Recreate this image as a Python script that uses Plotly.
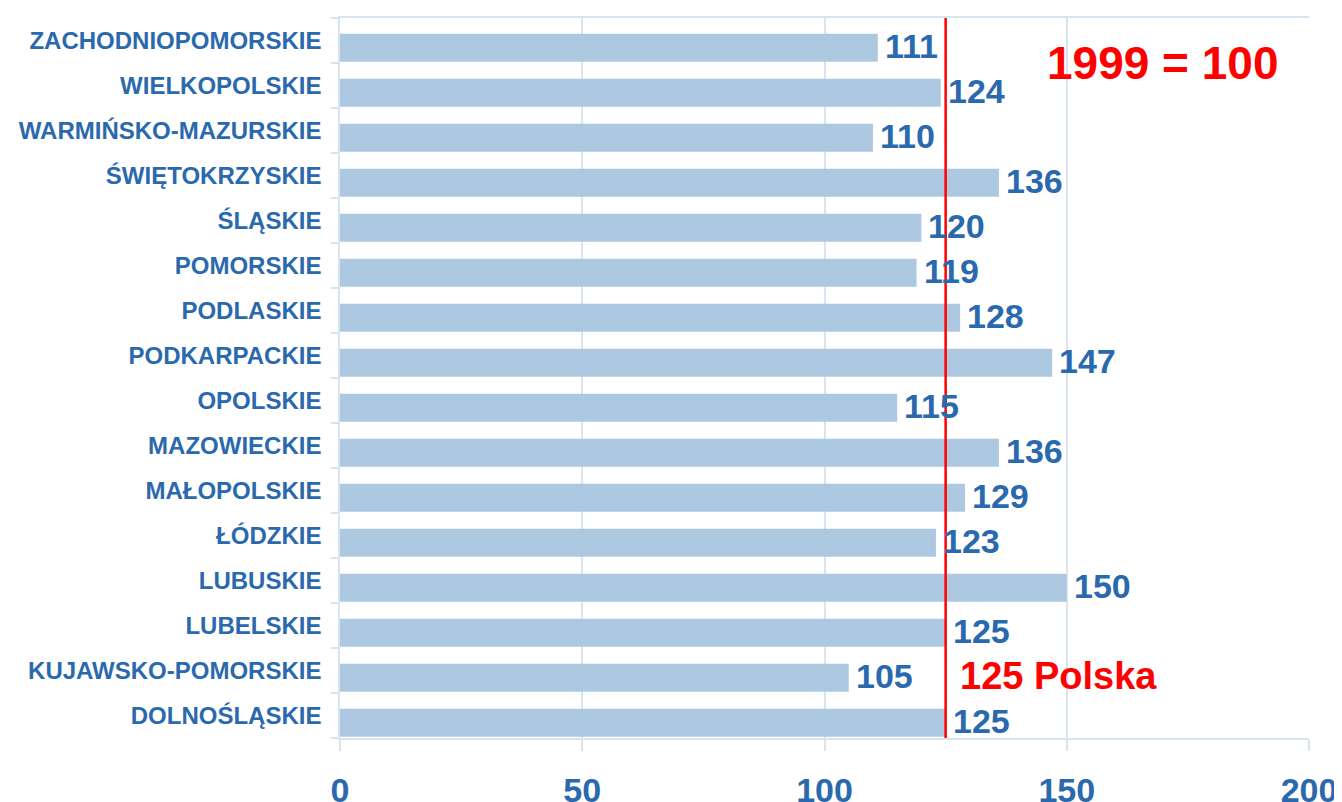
import plotly.graph_objects as go

regions = ["DOLNOŚLĄSKIE", "KUJAWSKO-POMORSKIE", "LUBELSKIE", "LUBUSKIE", "ŁÓDZKIE",
           "MAŁOPOLSKIE", "MAZOWIECKIE", "OPOLSKIE", "PODKARPACKIE", "PODLASKIE",
           "POMORSKIE", "ŚLĄSKIE", "ŚWIĘTOKRZYSKIE", "WARMIŃSKO-MAZURSKIE",
           "WIELKOPOLSKIE", "ZACHODNIOPOMORSKIE"]
values = [125, 105, 125, 150, 123, 129, 136, 115, 147, 128, 119, 120, 136, 110, 124, 111]
poland_value = 125
x_ticks = [0, 50, 100, 150, 200]
base_label = "1999 = 100"
poland_label = "125 Polska"

BLUE = "#2a69ad"
BAR = "#adc8e1"
GRID = "#d9e4f1"
FONT = "Liberation Sans, Arial, sans-serif"

OFF = 7  # page body offset
L, R, T, B = 339 - OFF, 1308 - OFF, 17 - OFF, 737 - OFF

fig = go.Figure()
fig.add_trace(go.Bar(
    y=regions, x=values, orientation="h",
    offset=-0.47, width=0.62,
    marker=dict(color=BAR, line=dict(width=0)),
    hoverinfo="x+y", showlegend=False,
))

for r, v in zip(regions, values):
    fig.add_annotation(x=v, y=r, xref="x", yref="y", text=str(v), showarrow=False,
                       xanchor="left", xshift=5, yshift=-5,
                       font=dict(family=FONT, size=34, color=BLUE, weight="bold"))

fig.add_shape(type="line", xref="x", yref="paper", x0=poland_value, x1=poland_value,
              y0=0, y1=1, line=dict(color="#ff0000", width=2.5), layer="above")

fig.add_annotation(x=(1162 - OFF - L) / (R - L), y=1 - (62 - OFF - T) / (B - T),
                   xref="paper", yref="paper", xanchor="center", yanchor="middle",
                   text=base_label, showarrow=False,
                   font=dict(family=FONT, size=46, color="#ff0000", weight="bold"))
fig.add_annotation(x=poland_value, y="KUJAWSKO-POMORSKIE", xref="x", yref="y", text=poland_label,
                   showarrow=False, xanchor="left", xshift=12, yshift=-5,
                   font=dict(family=FONT, size=38, color="#ff0000", weight="bold"))

fig.update_layout(
    width=1342, height=802,
    margin=dict(l=L, r=1342 - R, t=T, b=802 - B, autoexpand=False),
    paper_bgcolor="white", plot_bgcolor="white",
    font=dict(family=FONT, color=BLUE),
    xaxis=dict(
        range=[0, 200], tickvals=x_ticks, ticktext=[str(t) for t in x_ticks],
        showgrid=True, gridcolor=GRID, gridwidth=1.5, automargin=False,
        zeroline=False, showline=True, linecolor=GRID, linewidth=1.5, mirror=True,
        ticks="outside", ticklen=11, tickcolor=GRID, tickwidth=1.5,
        ticklabelstandoff=10,
        tickfont=dict(family=FONT, size=34, color=BLUE, weight="bold"),
    ),
    yaxis=dict(
        categoryorder="array", categoryarray=regions, automargin=False,
        showgrid=False, zeroline=False, showline=True, linecolor=GRID, linewidth=1.5,
        ticks="outside", ticklen=7, tickcolor=GRID, tickwidth=1.5, tickson="boundaries",
        ticklabelstandoff=12,
        tickfont=dict(family=FONT, size=24, color=BLUE, weight="bold"),
        range=[-0.5, len(regions) - 0.5],
    ),
)

fig.write_html("out.html")
